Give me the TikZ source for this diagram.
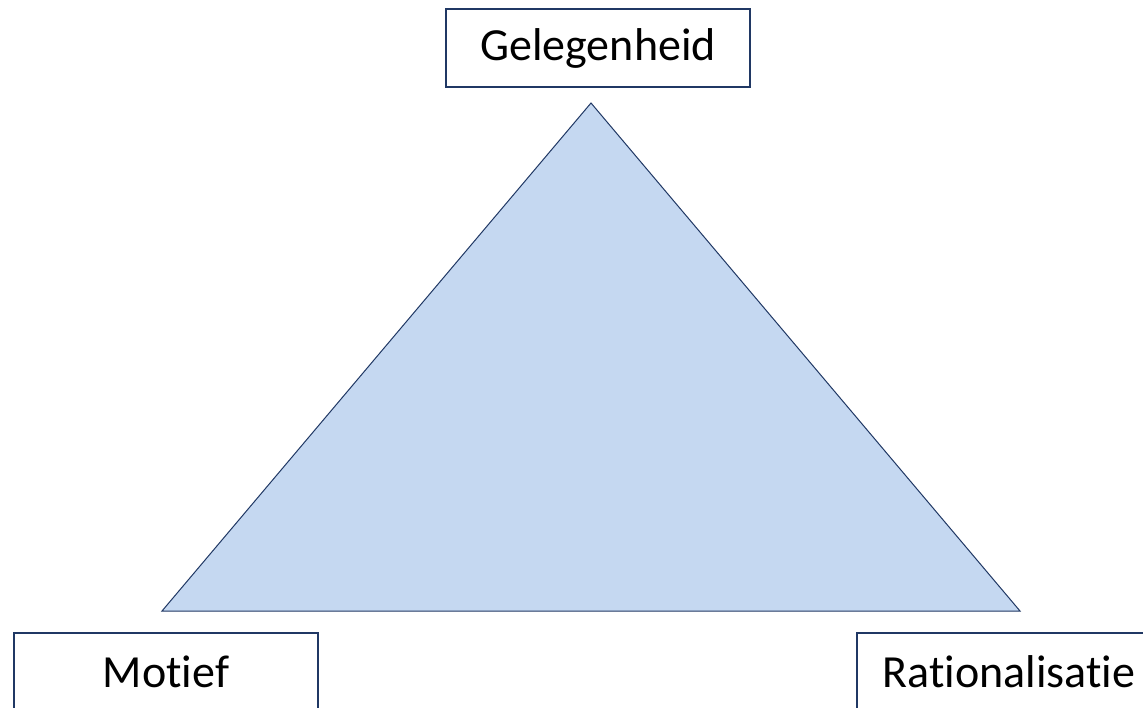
\documentclass[tikz,border=0pt]{standalone}
\usepackage{fontspec}
\setmainfont{Carlito}[Ligatures={NoCommon}]
\definecolor{navy}{HTML}{203864}
\definecolor{lightblue}{HTML}{C5D8F1}
\begin{document}
\begin{tikzpicture}[x=1pt, y=-1pt,
		box/.style={draw=navy, line width=1.5pt, fill=white, minimum width=304pt, minimum height=78pt, inner sep=0pt, font=\fontsize{46}{52}\selectfont}]
			\clip (0,0) rectangle (1143,707);
			\fill[white] (0,0) rectangle (1143,707);
			
			% Hoekpunten van de driehoek
			\coordinate (T) at (591,103);
			\coordinate (L) at (162,611);
			\coordinate (R) at (1020,611);
			
			% Driehoek
			\draw[navy, fill=lightblue, line width=1pt, line join=miter] (T) -- (L) -- (R) -- cycle;
			
			% Vakjes
			\node[box] (gelegenheid) at (598,48) {Gelegenheid};
			\node[box] (motief) at (166,672) {Motief};
			\node[box] (rationalisatie) at (1009,672) {Rationalisatie};
		\end{tikzpicture}
\end{document}
